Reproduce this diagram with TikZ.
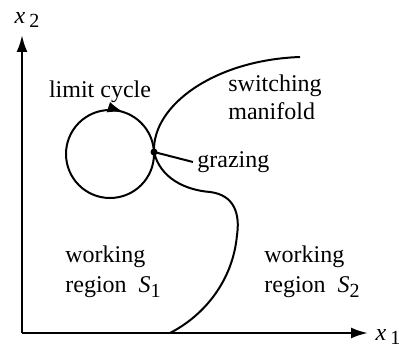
\documentclass[tikz,border=0pt]{standalone}
\usepackage{fontspec}
\setmainfont{Liberation Serif}
\usetikzlibrary{
    arrows.meta,
    decorations.markings
}
\newcommand{\lowidx}[1]{\raisebox{-0.45ex}{\fontsize{10}{10}\selectfont #1}}
\tikzset{
  axis/.style   = {-{Latex[length=8.5pt,width=5.5pt]}, line width=1.2pt},
  curve/.style  = {line width=1pt},
  lbl/.style    = {font=\fontsize{12}{14}\selectfont, inner sep=0pt},
  region/.style = {lbl, align=left, anchor=west}
}

\begin{document}
\begin{tikzpicture}[x=0.5pt,y=-0.5pt]
\useasboundingbox (0,0) rectangle (399,352);
% axes
\coordinate (origin) at (22,333);
\coordinate (xend) at (368,333);
\coordinate (yend) at (22,35);
\draw[axis] (origin) -- (xend);
\draw[axis] (origin) -- (yend);
\node[lbl] (xonelbl) at (388,337) {\textit{x}\,\lowidx{1}};
\node[lbl] (xtwolbl) at (27,20) {\textit{x}\,\lowidx{2}};
% limit cycle
\coordinate (cyc) at (110,154);
\draw[curve, postaction={decorate},
      decoration={markings, mark=at position 0.8 with {\arrow{Latex[length=8pt,width=5.5pt]}}}]
  (cyc) circle [radius=44];
\node[lbl] (cyclbl) at (100,92) {limit cycle};
% switching manifold
\coordinate (mantop) at (300,57);
\coordinate (graze) at (154,152);
\coordinate (manbot) at (170,333);
\draw[curve] (mantop) .. controls (215,60) and (152,105) .. (graze)
  .. controls (160,178) and (185,190) .. (210,192)
  .. controls (235,195) and (240,215) .. (237,235)
  .. controls (233,280) and (205,315) .. (manbot);
\node[region] (manlbl) at (228,97) {switching\\manifold};
% grazing point
\fill (graze) circle [radius=3.5];
\node[lbl, anchor=west, inner sep=2pt] (grazelbl) at (193,162) {grazing};
\draw[curve] (graze) -- (grazelbl.west);
% regions
\node[region] (sonelbl) at (65,272) {working\\[1pt]region\ \ \textit{S}\lowidx{1}};
\node[region] (stwolbl) at (264,272) {working\\[1pt]region\ \ \textit{S}\lowidx{2}};
\end{tikzpicture}
\end{document}
